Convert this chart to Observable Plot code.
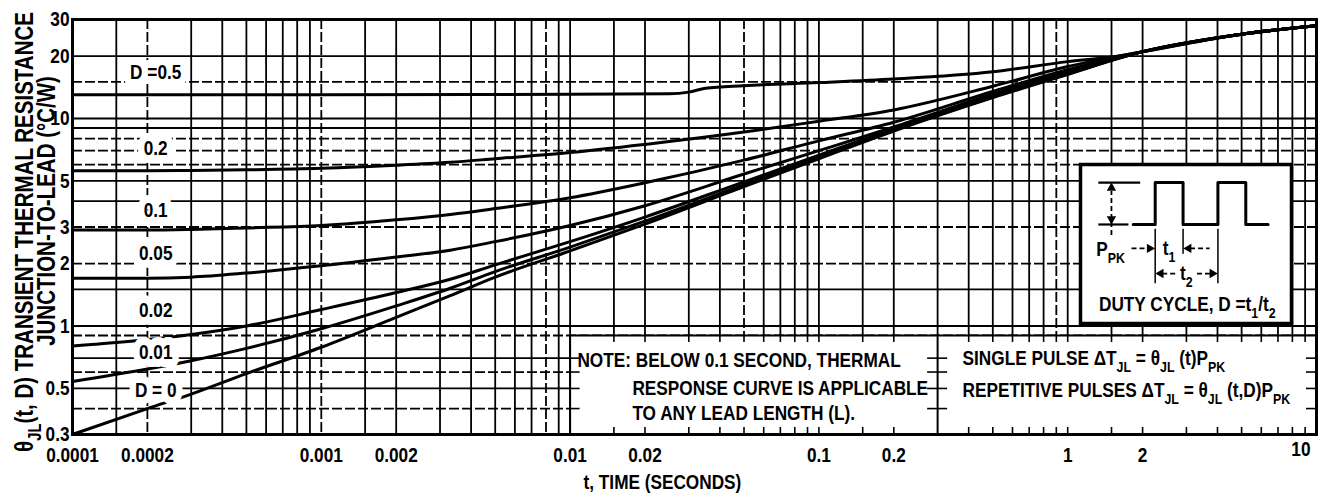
<!DOCTYPE html>
<html><head><meta charset="utf-8">
<script src="https://cdn.jsdelivr.net/npm/d3@7"></script>
<script src="https://cdn.jsdelivr.net/npm/@observablehq/plot@0.6"></script>
<style>
body{margin:0;background:#fff;}
#wrap{position:relative;width:1332px;height:504px;overflow:hidden;}
#wrap svg{display:block;}
#inset{position:absolute;}
</style></head><body><div id="wrap"></div>
<script>
// ---------- data ----------
const times = [1e-4, 2e-4, 3e-4, 5e-4, 1e-3, 2e-3, 3.3e-3, 5e-3, 1e-2, 2e-2, 5e-2, 0.1, 0.2, 0.5, 1, 2, 5, 10];
const rD0    = [0.30, 0.40, 0.47, 0.59, 0.79, 1.10, 1.40, 1.72, 2.30, 3.10, 4.70, 6.40, 8.70, 12.6, 16.3, 21.0, 25.5, 28.0];
const rD001  = [0.54, 0.62, 0.68, 0.78, 0.97, 1.25, 1.52, 1.83, 2.40, 3.20, 4.80, 6.50, 8.80, 12.7, 16.4, 21.0, 25.5, 28.0];
const rD002  = [0.80, 0.86, 0.91, 1.00, 1.20, 1.45, 1.68, 1.97, 2.55, 3.35, 4.95, 6.65, 8.90, 12.8, 16.5, 21.0, 25.5, 28.0];
const rD005  = [1.70, 1.70, 1.72, 1.80, 1.95, 2.15, 2.32, 2.55, 3.05, 3.80, 5.40, 7.00, 9.10, 13.1, 16.8, 21.0, 25.5, 28.0];
const rD01   = [2.90, 2.90, 2.92, 2.97, 3.05, 3.25, 3.45, 3.68, 4.15, 4.90, 6.30, 7.80, 9.60, 13.5, 17.2, 21.0, 25.5, 28.0];
const rD02   = [5.60, 5.60, 5.62, 5.66, 5.75, 5.95, 6.15, 6.40, 6.85, 7.50, 8.60, 9.70, 11.0, 14.3, 17.8, 21.0, 25.5, 28.0];
const timesD05 = [1e-4, 1e-3, 1e-2, 0.025, 0.03, 0.035, 0.05, 0.1, 0.2, 0.5, 1, 1.5, 2, 5, 10];
const rD05     = [13.0, 13.0, 13.1, 13.15, 13.4, 14.0, 14.4, 14.9, 15.5, 16.8, 18.8, 19.8, 21.0, 25.5, 28.0];

const xTicks = [1e-4, 2e-4, 5e-4, 1e-3, 2e-3, 5e-3, 0.01, 0.02, 0.05, 0.1, 0.2, 0.5, 1, 2, 5, 10];
const xTickLabels = ["0.0001","0.0002","0.0005","0.001","0.002","0.005","0.01","0.02","0.05","0.1","0.2","0.5","1","2","5","10"];
const yTicks = [0.3, 0.5, 0.7, 1, 2, 3, 5, 7, 10, 20, 30];
const yTickLabels = ["0.3","0.5","0.7","1","2","3","5","7","10","20","30"];

const gridXMant = [1, 1.5, 2, 3, 4, 5, 6, 7, 8, 9];
const gridXDashed = [2e-4, 1e-3, 8e-3, 0.05, 0.9];
const gridYSolid = [0.3, 0.5, 0.7, 1, 1.5, 4, 5, 9, 10, 20, 30];
const gridYDashed = [0.4, 0.6, 0.9, 2, 3, 6, 7, 8, 15];

const curveLabelText  = ["D =0.5", "0.2", "0.1", "0.05", "0.02", "0.01", "D = 0"];
const curveLabelValue = [16.7, 7.2, 3.6, 2.24, 1.19, 0.75, 0.49];
const curveLabelTime  = 2.16e-4;

const noteLines = ["NOTE: BELOW 0.1 SECOND, THERMAL", "RESPONSE CURVE IS APPLICABLE", "TO ANY LEAD LENGTH (L)."];
const noteTime  = [0.0107, 0.0178, 0.0178];
const noteValue = [0.68, 0.50, 0.379];
const formulaLines = ["SINGLE PULSE ΔT_{JL} = θ_{JL} (t)P_{PK}", "REPETITIVE PULSES ΔT_{JL} = θ_{JL} (t,D)P_{PK}"];
const formulaTime  = 0.378;
const formulaValue = [0.70, 0.489];
const noteBox = {t1: 0.01, t2: 10, tMid: 0.3, v1: 0.3, v2: 0.9};
const insetBox = {t1: 1.13, t2: 8.0, v1: 1.03, v2: 6.0};

const yTitle = ["θ_{JL}(t, D) TRANSIENT THERMAL RESISTANCE", "JUNCTION-TO-LEAD (°C/W)"];
const xTitle = "t, TIME (SECONDS)";
const xTitleAt = 0.0235;

// inset (duty-cycle diagram), in pulse units: x in t1 units, y in P_PK units
const pulseU = [-0.79, 0, 0, 1, 1, 2.25, 2.25, 3.25, 3.25, 4.05];
const pulseA = [0, 0, 1, 1, 0, 0, 1, 1, 0, 0];
const refLines = [{u1:-2.04,a1:1,u2:-0.54,a2:1},{u1:-2.04,a1:0,u2:-0.96,a2:0}];
const dimLines = [{u1:0,a1:-0.1,u2:0,a2:-1.4},{u1:1,a1:-0.1,u2:1,a2:-0.7},{u1:2.25,a1:-0.1,u2:2.25,a2:-1.4}];
const dashLines = [{u1:-1.57,a1:-0.25,u2:-1.57,a2:0.8},{u1:-0.85,a1:-0.57,u2:-0.25,a2:-0.57},{u1:1.25,a1:-0.57,u2:1.95,a2:-0.57},{u1:0.25,a1:-1.17,u2:0.75,a2:-1.17},{u1:1.5,a1:-1.17,u2:2.0,a2:-1.17}];
const heads = [{u:-1.57,a:0.87,r:0},{u:-1.57,a:0.13,r:180},{u:-0.2,a:-0.57,r:90},{u:1.2,a:-0.57,r:270},{u:0.2,a:-1.17,r:270},{u:2.05,a:-1.17,r:90}];
const insetText = ["P_{PK}", "t_{1}", "t_{2}", "DUTY CYCLE, D =t_{1}/t_{2}"];
const insetTextU = [-1.6, 0.5, 1.12, 1.15];
const insetTextA = [-0.6, -0.57, -1.17, -1.9];

// ---------- build ----------
const W = 1332, H = 504, mL = 72, mR = 16, mT = 19, mB = 70;
const FONT = "'Liberation Sans',Arial,Helvetica,sans-serif";
const NARROW = 0.82;
const xs = Plot.scale({x: {type: "log", domain: [1e-4, 10], range: [mL, W - mR]}});
const ys = Plot.scale({y: {type: "log", domain: [0.3, 30], range: [H - mB, mT]}});

const rows = [];
[["0", rD0], ["0.01", rD001], ["0.02", rD002], ["0.05", rD005], ["0.1", rD01], ["0.2", rD02]].forEach(([D, vals]) =>
  vals.forEach((v, i) => rows.push({D, t: times[i], v})));
timesD05.forEach((t, i) => rows.push({D: "0.5", t, v: rD05[i]}));

const gridAll = [];
for (let k = -4; k <= 0; k++) for (const m of gridXMant) gridAll.push(+(m * 10 ** k).toPrecision(3));
gridAll.push(10);
const gridX = gridAll.filter(t => !gridXDashed.includes(t));
const gridXD = gridAll.filter(t => gridXDashed.includes(t));

// stubs inside the note / formula boxes
const insideX = gridAll.filter(t => t > noteBox.t1 && t < noteBox.t2 && t !== noteBox.tMid);
const insideY = gridYSolid.concat(gridYDashed).filter(v => v > noteBox.v1 && v < noteBox.v2);
const stubV = [];
insideX.forEach(t => {
  stubV.push({t, a: noteBox.v1, b: ys.invert(ys.apply(noteBox.v1) - 7)});
  stubV.push({t, a: noteBox.v2, b: ys.invert(ys.apply(noteBox.v2) + 7)});
});
const stubH = [];
insideY.forEach(v => {
  stubH.push({v, a: noteBox.t1, b: xs.invert(xs.apply(noteBox.t1) + 10)});
  stubH.push({v, a: xs.invert(xs.apply(noteBox.tMid) - 10), b: xs.invert(xs.apply(noteBox.tMid) + 10)});
  stubH.push({v, a: xs.invert(xs.apply(noteBox.t2) - 10), b: noteBox.t2});
});

const lbl = curveLabelText.map((text, i) => ({text, t: curveLabelTime, v: curveLabelValue[i]}));
const notes = noteLines.map((text, i) => ({text, t: noteTime[i], v: noteValue[i]}));
const forms = formulaLines.map((text, i) => ({text, t: formulaTime, v: formulaValue[i]}));

const plot = Plot.plot({
  width: W, height: H,
  marginLeft: mL, marginRight: mR, marginTop: mT, marginBottom: mB,
  x: {type: "log", domain: [1e-4, 10], axis: null},
  y: {type: "log", domain: [0.3, 30], axis: null},
  style: {fontFamily: FONT, fontSize: "21px", fontWeight: "bold", color: "#000", background: "#fff", overflow: "visible"},
  marks: [
    Plot.ruleX(gridX, {stroke: "#000", strokeWidth: 1.8}),
    Plot.ruleX(gridXD, {stroke: "#000", strokeWidth: 1.8, strokeDasharray: "10,3"}),
    Plot.ruleY(gridYSolid, {stroke: "#000", strokeWidth: 1.8}),
    Plot.ruleY(gridYDashed, {stroke: "#000", strokeWidth: 1.8, strokeDasharray: "10,3"}),
    Plot.rect([noteBox], {x1: "t1", x2: "t2", y1: "v1", y2: "v2", fill: "#fff", inset: 1}),
    Plot.ruleX([noteBox.t1, noteBox.tMid], {y1: noteBox.v1, y2: noteBox.v2, stroke: "#000", strokeWidth: 2}),
    Plot.ruleY([noteBox.v2], {x1: noteBox.t1, x2: noteBox.t2, stroke: "#000", strokeWidth: 2}),
    Plot.ruleX(stubV, {x: "t", y1: "a", y2: "b", stroke: "#000", strokeWidth: 1.6}),
    Plot.ruleY(stubH, {y: "v", x1: "a", x2: "b", stroke: "#000", strokeWidth: 1.6}),
    Plot.line(rows, {x: "t", y: "v", z: "D", stroke: "#000", strokeWidth: 3, curve: "monotone-x"}),
    Plot.text(lbl, {x: "t", y: "v", text: "text", fill: "#000", stroke: "#fff", strokeWidth: 16, paintOrder: "stroke"}),
    Plot.text(notes, {x: "t", y: "v", text: "text", textAnchor: "start", fill: "#000"}),
    Plot.text(forms, {x: "t", y: "v", text: "text", textAnchor: "start", fill: "#000"}),
    Plot.frame({stroke: "#000", strokeWidth: 3}),
    Plot.axisX({ticks: xTicks.slice(0, -1), tickFormat: d => xTickLabels[xTicks.indexOf(d)], tickSize: 0, tickPadding: 13, label: null}),
    Plot.text([xTicks[xTicks.length - 1]], {x: d => d, text: d => xTickLabels[xTicks.indexOf(d)], frameAnchor: "bottom", textAnchor: "end", dy: 21, dx: -6}),
    Plot.axisY({ticks: yTicks, tickFormat: d => yTickLabels[yTicks.indexOf(d)], tickSize: 0, tickPadding: 3, label: null}),
    Plot.text([xTitle], {x: () => xTitleAt, text: d => d, frameAnchor: "bottom", dy: 54}),
    Plot.text([yTitle[0]], {text: d => d, frameAnchor: "left", textAnchor: "middle", rotate: -90, dx: -48, dy: 5, fontSize: 25}),
    Plot.text([yTitle[1]], {text: d => d, frameAnchor: "left", textAnchor: "middle", rotate: -90, dx: -26, dy: -16, fontSize: 25})
  ]
});

// inset
const iL = xs.apply(insetBox.t1), iR = xs.apply(insetBox.t2), iT = ys.apply(insetBox.v2), iB = ys.apply(insetBox.v1);
const iw = Math.round(iR - iL), ih = Math.round(iB - iT);
const pulse = pulseU.map((u, i) => ({u, a: pulseA[i]}));
const itext = insetText.map((text, i) => ({text, u: insetTextU[i], a: insetTextA[i]}));
const inset = Plot.plot({
  width: iw, height: ih, margin: 0,
  x: {domain: [-2.68, 4.89], axis: null},
  y: {domain: [-2.36, 1.43], axis: null},
  style: {fontFamily: FONT, fontSize: "21px", fontWeight: "bold", background: "#fff", overflow: "visible"},
  marks: [
    Plot.frame({stroke: "#000", strokeWidth: 3.5}),
    Plot.line(pulse, {x: "u", y: "a", stroke: "#000", strokeWidth: 3}),
    Plot.link(refLines, {x1: "u1", y1: "a1", x2: "u2", y2: "a2", stroke: "#000", strokeWidth: 2.2}),
    Plot.link(dimLines, {x1: "u1", y1: "a1", x2: "u2", y2: "a2", stroke: "#000", strokeWidth: 1.5}),
    Plot.link(dashLines, {x1: "u1", y1: "a1", x2: "u2", y2: "a2", stroke: "#000", strokeWidth: 1.8, strokeDasharray: "5,3"}),
    Plot.dot(heads, {x: "u", y: "a", rotate: "r", symbol: "triangle", r: 3.5, fill: "#000", stroke: null}),
    Plot.text(itext, {x: "u", y: "a", text: "text", fill: "#000"})
  ]
});

function richify(svg) {
  d3.select(svg).selectAll("text").each(function () {
    const s = this.textContent;
    if (!s.includes("_{")) return;
    const sel = d3.select(this);
    sel.text(null);
    let sub = false;
    for (const p of s.split(/(_\{[^}]*\})/)) {
      if (!p) continue;
      if (p.startsWith("_{")) {
        sel.append("tspan").attr("font-size", "0.72em").attr("dy", "0.45em").text(p.slice(2, -1));
        sub = true;
      } else {
        const ts = sel.append("tspan").text(p);
        if (sub) { ts.attr("dy", "-0.324em"); sub = false; }
      }
    }
  });
}
// condense glyphs horizontally (narrow Helvetica look)
function narrow(svg) {
  d3.select(svg).selectAll("text").each(function () {
    const L = this.getComputedTextLength();
    if (L > 0) {
      this.setAttribute("textLength", (L * NARROW).toFixed(1));
      this.setAttribute("lengthAdjust", "spacingAndGlyphs");
    }
  });
}
richify(plot); richify(inset);

const wrap = document.getElementById("wrap");
wrap.appendChild(plot);
const div = document.createElement("div");
div.id = "inset";
div.style.left = Math.round(iL) + "px";
div.style.top = Math.round(iT) + "px";
div.appendChild(inset);
wrap.appendChild(div);
narrow(plot); narrow(inset);
</script></body></html>
